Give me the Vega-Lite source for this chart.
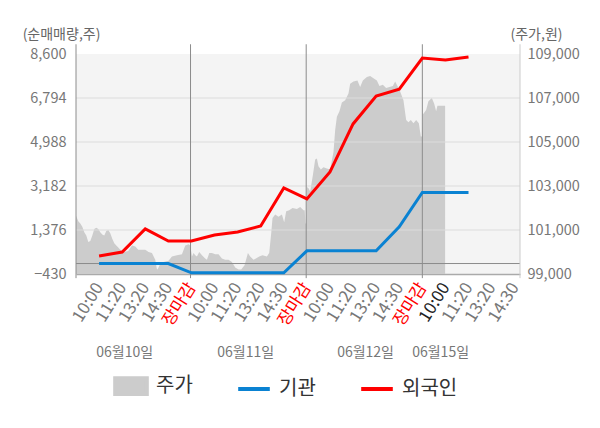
{
  "$schema": "https://vega.github.io/schema/vega-lite/v6.json",
  "width": 444,
  "height": 220,
  "autosize": {"type": "none"},
  "padding": {"left": 76, "top": 54, "right": 80, "bottom": 154},
  "config": {
    "font": "Noto Sans CJK KR",
    "view": {"fill": "#f4f4f4", "stroke": null},
    "axis": {"labelOverlap": false}
  },
  "datasets": {
    "price": [
      {"pos": 0, "price": 101650, "series": "주가"},
      {"pos": 0.1, "price": 101400, "series": "주가"},
      {"pos": 0.186, "price": 101300, "series": "주가"},
      {"pos": 0.273, "price": 101150, "series": "주가"},
      {"pos": 0.359, "price": 100900, "series": "주가"},
      {"pos": 0.446, "price": 100750, "series": "주가"},
      {"pos": 0.532, "price": 100450, "series": "주가"},
      {"pos": 0.619, "price": 100500, "series": "주가"},
      {"pos": 0.706, "price": 100750, "series": "주가"},
      {"pos": 0.792, "price": 101050, "series": "주가"},
      {"pos": 0.879, "price": 101100, "series": "주가"},
      {"pos": 0.965, "price": 101050, "series": "주가"},
      {"pos": 1.052, "price": 100900, "series": "주가"},
      {"pos": 1.139, "price": 100800, "series": "주가"},
      {"pos": 1.225, "price": 100750, "series": "주가"},
      {"pos": 1.312, "price": 100950, "series": "주가"},
      {"pos": 1.398, "price": 101000, "series": "주가"},
      {"pos": 1.485, "price": 100850, "series": "주가"},
      {"pos": 1.571, "price": 100600, "series": "주가"},
      {"pos": 1.658, "price": 100400, "series": "주가"},
      {"pos": 1.745, "price": 100300, "series": "주가"},
      {"pos": 1.831, "price": 100200, "series": "주가"},
      {"pos": 1.918, "price": 100100, "series": "주가"},
      {"pos": 2.004, "price": 100050, "series": "주가"},
      {"pos": 2.091, "price": 100000, "series": "주가"},
      {"pos": 2.264, "price": 100050, "series": "주가"},
      {"pos": 2.394, "price": 100250, "series": "주가"},
      {"pos": 2.437, "price": 100300, "series": "주가"},
      {"pos": 2.567, "price": 100250, "series": "주가"},
      {"pos": 2.697, "price": 100100, "series": "주가"},
      {"pos": 2.857, "price": 100100, "series": "주가"},
      {"pos": 3.0, "price": 100100, "series": "주가"},
      {"pos": 3.143, "price": 100000, "series": "주가"},
      {"pos": 3.29, "price": 99950, "series": "주가"},
      {"pos": 3.433, "price": 99650, "series": "주가"},
      {"pos": 3.498, "price": 99250, "series": "주가"},
      {"pos": 3.532, "price": 99200, "series": "주가"},
      {"pos": 3.619, "price": 99400, "series": "주가"},
      {"pos": 3.792, "price": 99550, "series": "주가"},
      {"pos": 4.009, "price": 99600, "series": "주가"},
      {"pos": 4.156, "price": 99800, "series": "주가"},
      {"pos": 4.372, "price": 99850, "series": "주가"},
      {"pos": 4.589, "price": 99900, "series": "주가"},
      {"pos": 4.732, "price": 100300, "series": "주가"},
      {"pos": 4.874, "price": 100350, "series": "주가"},
      {"pos": 4.948, "price": 100300, "series": "주가"},
      {"pos": 5.022, "price": 99800, "series": "주가"},
      {"pos": 5.091, "price": 99950, "series": "주가"},
      {"pos": 5.165, "price": 99850, "series": "주가"},
      {"pos": 5.238, "price": 99800, "series": "주가"},
      {"pos": 5.338, "price": 100000, "series": "주가"},
      {"pos": 5.455, "price": 99850, "series": "주가"},
      {"pos": 5.597, "price": 99700, "series": "주가"},
      {"pos": 5.671, "price": 99650, "series": "주가"},
      {"pos": 5.771, "price": 99950, "series": "주가"},
      {"pos": 5.887, "price": 99950, "series": "주가"},
      {"pos": 6.03, "price": 99900, "series": "주가"},
      {"pos": 6.173, "price": 99900, "series": "주가"},
      {"pos": 6.32, "price": 99700, "series": "주가"},
      {"pos": 6.463, "price": 99650, "series": "주가"},
      {"pos": 6.606, "price": 99650, "series": "주가"},
      {"pos": 6.753, "price": 99550, "series": "주가"},
      {"pos": 6.896, "price": 99300, "series": "주가"},
      {"pos": 7.039, "price": 99200, "series": "주가"},
      {"pos": 7.156, "price": 99200, "series": "주가"},
      {"pos": 7.299, "price": 99400, "series": "주가"},
      {"pos": 7.446, "price": 99950, "series": "주가"},
      {"pos": 7.545, "price": 99800, "series": "주가"},
      {"pos": 7.688, "price": 99650, "series": "주가"},
      {"pos": 7.792, "price": 99700, "series": "주가"},
      {"pos": 7.935, "price": 99800, "series": "주가"},
      {"pos": 8.078, "price": 99850, "series": "주가"},
      {"pos": 8.268, "price": 99800, "series": "주가"},
      {"pos": 8.368, "price": 99950, "series": "주가"},
      {"pos": 8.455, "price": 100850, "series": "주가"},
      {"pos": 8.511, "price": 101550, "series": "주가"},
      {"pos": 8.628, "price": 101700, "series": "주가"},
      {"pos": 8.771, "price": 101600, "series": "주가"},
      {"pos": 8.918, "price": 101700, "series": "주가"},
      {"pos": 9.017, "price": 101350, "series": "주가"},
      {"pos": 9.104, "price": 101850, "series": "주가"},
      {"pos": 9.234, "price": 101900, "series": "주가"},
      {"pos": 9.377, "price": 102000, "series": "주가"},
      {"pos": 9.567, "price": 101950, "series": "주가"},
      {"pos": 9.71, "price": 102050, "series": "주가"},
      {"pos": 9.853, "price": 101900, "series": "주가"},
      {"pos": 9.905, "price": 101900, "series": "주가"},
      {"pos": 9.935, "price": 101300, "series": "주가"},
      {"pos": 9.97, "price": 101300, "series": "주가"},
      {"pos": 10.0, "price": 102950, "series": "주가"},
      {"pos": 10.069, "price": 102900, "series": "주가"},
      {"pos": 10.143, "price": 102750, "series": "주가"},
      {"pos": 10.26, "price": 103500, "series": "주가"},
      {"pos": 10.359, "price": 104200, "series": "주가"},
      {"pos": 10.433, "price": 104250, "series": "주가"},
      {"pos": 10.502, "price": 103900, "series": "주가"},
      {"pos": 10.606, "price": 103750, "series": "주가"},
      {"pos": 10.719, "price": 103850, "series": "주가"},
      {"pos": 10.866, "price": 103800, "series": "주가"},
      {"pos": 11.009, "price": 103750, "series": "주가"},
      {"pos": 11.152, "price": 104550, "series": "주가"},
      {"pos": 11.225, "price": 105550, "series": "주가"},
      {"pos": 11.299, "price": 106150, "series": "주가"},
      {"pos": 11.411, "price": 106400, "series": "주가"},
      {"pos": 11.515, "price": 106800, "series": "주가"},
      {"pos": 11.658, "price": 106900, "series": "주가"},
      {"pos": 11.801, "price": 107200, "series": "주가"},
      {"pos": 11.874, "price": 107650, "series": "주가"},
      {"pos": 12.017, "price": 107750, "series": "주가"},
      {"pos": 12.19, "price": 107800, "series": "주가"},
      {"pos": 12.307, "price": 107500, "series": "주가"},
      {"pos": 12.424, "price": 107800, "series": "주가"},
      {"pos": 12.597, "price": 107950, "series": "주가"},
      {"pos": 12.74, "price": 108000, "series": "주가"},
      {"pos": 12.883, "price": 107900, "series": "주가"},
      {"pos": 13.03, "price": 107800, "series": "주가"},
      {"pos": 13.143, "price": 107550, "series": "주가"},
      {"pos": 13.29, "price": 107600, "series": "주가"},
      {"pos": 13.433, "price": 107450, "series": "주가"},
      {"pos": 13.576, "price": 107500, "series": "주가"},
      {"pos": 13.723, "price": 107550, "series": "주가"},
      {"pos": 13.823, "price": 107750, "series": "주가"},
      {"pos": 13.922, "price": 107550, "series": "주가"},
      {"pos": 14.039, "price": 107300, "series": "주가"},
      {"pos": 14.182, "price": 106900, "series": "주가"},
      {"pos": 14.299, "price": 106000, "series": "주가"},
      {"pos": 14.398, "price": 105900, "series": "주가"},
      {"pos": 14.502, "price": 106000, "series": "주가"},
      {"pos": 14.615, "price": 105850, "series": "주가"},
      {"pos": 14.732, "price": 106000, "series": "주가"},
      {"pos": 14.848, "price": 105850, "series": "주가"},
      {"pos": 14.935, "price": 105250, "series": "주가"},
      {"pos": 14.991, "price": 105250, "series": "주가"},
      {"pos": 15.022, "price": 106250, "series": "주가"},
      {"pos": 15.165, "price": 106450, "series": "주가"},
      {"pos": 15.264, "price": 106850, "series": "주가"},
      {"pos": 15.411, "price": 107000, "series": "주가"},
      {"pos": 15.511, "price": 106750, "series": "주가"},
      {"pos": 15.597, "price": 106400, "series": "주가"},
      {"pos": 15.654, "price": 106650, "series": "주가"},
      {"pos": 15.844, "price": 106650, "series": "주가"},
      {"pos": 15.987, "price": 106650, "series": "주가"}
    ],
    "flows": [
      {"pos": 1, "series": "기관", "qty": 0},
      {"pos": 2, "series": "기관", "qty": 0},
      {"pos": 3, "series": "기관", "qty": 0},
      {"pos": 4, "series": "기관", "qty": 0},
      {"pos": 5, "series": "기관", "qty": -380},
      {"pos": 6, "series": "기관", "qty": -380},
      {"pos": 7, "series": "기관", "qty": -380},
      {"pos": 8, "series": "기관", "qty": -380},
      {"pos": 9, "series": "기관", "qty": -380},
      {"pos": 10, "series": "기관", "qty": 520},
      {"pos": 11, "series": "기관", "qty": 520},
      {"pos": 12, "series": "기관", "qty": 520},
      {"pos": 13, "series": "기관", "qty": 520},
      {"pos": 14, "series": "기관", "qty": 1510},
      {"pos": 15, "series": "기관", "qty": 2920},
      {"pos": 16, "series": "기관", "qty": 2920},
      {"pos": 17, "series": "기관", "qty": 2920},
      {"pos": 1, "series": "외국인", "qty": 310},
      {"pos": 2, "series": "외국인", "qty": 470},
      {"pos": 3, "series": "외국인", "qty": 1420},
      {"pos": 4, "series": "외국인", "qty": 925},
      {"pos": 5, "series": "외국인", "qty": 925},
      {"pos": 6, "series": "외국인", "qty": 1170},
      {"pos": 7, "series": "외국인", "qty": 1295},
      {"pos": 8, "series": "외국인", "qty": 1540},
      {"pos": 9, "series": "외국인", "qty": 3100},
      {"pos": 10, "series": "외국인", "qty": 2650},
      {"pos": 11, "series": "외국인", "qty": 3760},
      {"pos": 12, "series": "외국인", "qty": 5730},
      {"pos": 13, "series": "외국인", "qty": 6875},
      {"pos": 14, "series": "외국인", "qty": 7160},
      {"pos": 15, "series": "외국인", "qty": 8435},
      {"pos": 16, "series": "외국인", "qty": 8355},
      {"pos": 17, "series": "외국인", "qty": 8475}
    ]
  },
  "layer": [
    {
      "data": {"name": "price"},
      "mark": {"type": "area", "color": "#cccccc"},
      "encoding": {
        "x": {
          "field": "pos", "type": "quantitative",
          "scale": {"domain": [0, 19.23], "nice": false, "zero": false},
          "axis": {
            "orient": "bottom", "title": null, "values": [2.09, 7.33, 12.52, 15.77], "tickCount": 10,
            "labelExpr": "datum.value < 5 ? '06월10일' : datum.value < 10 ? '06월11일' : datum.value < 15 ? '06월12일' : '06월15일'",
            "domain": false, "ticks": false, "grid": false,
            "labelAngle": 0, "labelAlign": "center", "labelBaseline": "top",
            "labelPadding": 71, "labelFontSize": 14, "labelColor": "#777777",
            "labelOverlap": false, "labelFlush": false
          }
        },
        "y": {
          "field": "price", "type": "quantitative",
          "scale": {"domain": [99000, 109000], "nice": false, "zero": false},
          "axis": {
            "orient": "right", "values": [99000, 101000, 103000, 105000, 107000, 109000], "tickCount": 10,
            "format": ",.0f", "domain": false, "ticks": false, "grid": false,
            "labelPadding": 7, "labelFontSize": 14.5, "labelColor": "#777777",
            "title": "(주가,원)", "titleAngle": 0, "titleX": 16, "titleY": -20,
            "titleAlign": "center", "titleBaseline": "middle",
            "titleFontSize": 14, "titleFontWeight": "normal", "titleColor": "#666666"
          }
        },
        "y2": {"datum": 99000},
        "color": {
          "field": "series", "type": "nominal",
          "scale": {"domain": ["주가", "기관", "외국인"], "range": ["#cccccc", "#0a82d2", "#ff0000"]},
          "legend": {
            "orient": "none", "legendX": 37, "legendY": 314, "direction": "horizontal",
            "title": null, "padding": 0, "symbolSize": 1000, "symbolStrokeWidth": 4,
            "labelFontSize": 20, "labelColor": "#333333", "labelOffset": 7, "columnPadding": 37,
            "encode": {
              "symbols": {
                "update": {
                  "shape": {"signal": "datum.value === '주가' ? 'M-1,-0.5H1V0.5H-1Z' : 'stroke'"},
                  "fill": {"signal": "datum.value === '주가' ? '#cccccc' : 'transparent'"},
                  "stroke": {"signal": "datum.value === '주가' ? 'transparent' : datum.value === '기관' ? '#0a82d2' : '#ff0000'"},
                  "strokeWidth": {"value": 4},
                  "opacity": {"value": 1}
                }
              }
            }
          }
        }
      }
    },
    {
      "layer": [
        {
          "data": {"values": [{"level": 1376}, {"level": 3182}, {"level": 4988}, {"level": 6794}]},
          "mark": {"type": "rule", "color": "#dcdcdc", "strokeWidth": 1},
          "encoding": {"y": {"field": "level", "type": "quantitative"}}
        },
        {
          "data": {"values": [{"level": 0}]},
          "mark": {"type": "rule", "color": "#8c8c8c", "strokeWidth": 1},
          "encoding": {"y": {"field": "level", "type": "quantitative"}}
        },
        {
          "data": {"values": [{"pos": 0}, {"pos": 4.96}, {"pos": 9.97}, {"pos": 15}]},
          "mark": {"type": "rule", "color": "#8c8c8c", "strokeWidth": 1},
          "encoding": {
            "x": {"field": "pos", "type": "quantitative"},
            "y": {"datum": -600},
            "y2": {"datum": 9000}
          }
        },
        {
          "data": {"values": [{"pos": 19.23}]},
          "mark": {"type": "rule", "color": "#cccccc", "strokeWidth": 1},
          "encoding": {
            "x": {"field": "pos", "type": "quantitative"},
            "y": {"datum": -600},
            "y2": {"datum": 9000}
          }
        },
        {
          "data": {"name": "flows"},
          "mark": {"type": "line", "strokeWidth": 3},
          "encoding": {
            "x": {
              "field": "pos", "type": "quantitative",
              "scale": {"domain": [0, 19.23], "nice": false, "zero": false},
              "axis": {
                "orient": "bottom", "title": null,
                "values": [1, 2, 3, 4, 5, 6, 7, 8, 9, 10, 11, 12, 13, 14, 15, 16, 17, 18, 19],
                "tickCount": 25,
                "labelExpr": "['10:00', '11:20', '13:20', '14:30', '장마감'][(datum.value - 1) % 5]",
                "labelAngle": -58, "labelFontSize": 17, "labelPadding": 10,
                "labelColor": {
                  "condition": [
                    {"test": "datum.value % 5 === 0", "value": "#ff0000"},
                    {"test": "datum.value === 16", "value": "#222222"}
                  ],
                  "value": "#777777"
                },
                "labelOverlap": false, "labelFlush": false, "labelBound": false,
                "domain": true, "domainColor": "#aaaaaa", "domainWidth": 1.5,
                "ticks": false, "grid": false
              }
            },
            "y": {
              "field": "qty", "type": "quantitative",
              "scale": {"domain": [-430, 8600], "nice": false, "zero": false},
              "axis": {
                "orient": "left", "values": [-430, 1376, 3182, 4988, 6794, 8600], "tickCount": 10,
                "format": ",.0f", "domain": false, "ticks": false, "grid": false,
                "labelPadding": 10, "labelFontSize": 14.5, "labelColor": "#777777",
                "title": "(순매매량,주)", "titleAngle": 0, "titleX": -15, "titleY": -20,
                "titleAlign": "center", "titleBaseline": "middle",
                "titleFontSize": 14, "titleFontWeight": "normal", "titleColor": "#666666"
              }
            },
            "color": {"field": "series", "type": "nominal"}
          }
        }
      ]
    }
  ],
  "resolve": {"scale": {"x": "independent", "y": "independent"}}
}
